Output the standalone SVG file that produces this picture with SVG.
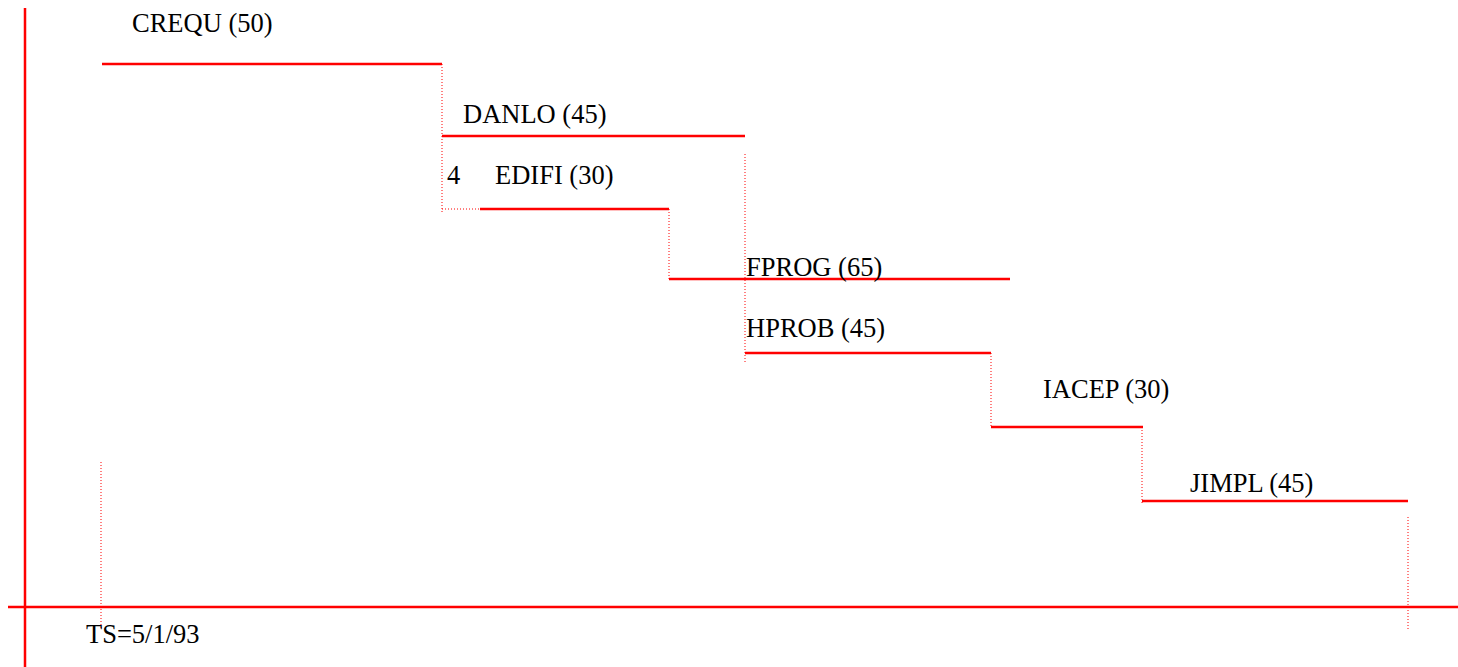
<svg xmlns="http://www.w3.org/2000/svg" width="1458" height="667" viewBox="0 0 1458 667">
<style>
.bar{stroke:#ff0000;stroke-width:2.5;fill:none}
.axis{stroke:#ff0000;stroke-width:2.5;fill:none}
.dot{stroke:#ff0000;stroke-width:1;stroke-dasharray:1 2;fill:none}
.lbl{font-family:"Liberation Serif","Times New Roman",serif;font-size:26.5px;fill:#000}
</style>
<rect width="1458" height="667" fill="#fff"/>
<g id="axes">
<line class="axis" x1="25" y1="8" x2="25" y2="667"/>
<line class="axis" x1="8" y1="607" x2="1458" y2="607"/>
</g>
<g id="connectors">
<line class="dot" x1="101" y1="462" x2="101" y2="630"/>
<line class="dot" x1="442" y1="64" x2="442" y2="213"/>
<line class="dot" x1="442" y1="209" x2="480" y2="209"/>
<line class="dot" x1="669" y1="209" x2="669" y2="280"/>
<line class="dot" x1="745" y1="154" x2="745" y2="363"/>
<line class="dot" x1="991" y1="353" x2="991" y2="427"/>
<line class="dot" x1="1142" y1="427" x2="1142" y2="504"/>
<line class="dot" x1="1408" y1="517" x2="1408" y2="630"/>
</g>
<g id="CREQU"><line class="bar" x1="102" y1="64" x2="442" y2="64"/><text class="lbl" x="132" y="32">CREQU (50)</text></g>
<g id="DANLO"><line class="bar" x1="442" y1="136" x2="745" y2="136"/><text class="lbl" x="463" y="123">DANLO (45)</text></g>
<g id="EDIFI"><line class="bar" x1="480" y1="209" x2="669" y2="209"/><text class="lbl" x="447" y="184">4</text><text class="lbl" x="495" y="184">EDIFI (30)</text></g>
<g id="FPROG"><line class="bar" x1="669" y1="279" x2="1010" y2="279"/><text class="lbl" x="746" y="276">FPROG (65)</text></g>
<g id="HPROB"><line class="bar" x1="745" y1="353" x2="991" y2="353"/><text class="lbl" x="746" y="337">HPROB (45)</text></g>
<g id="IACEP"><line class="bar" x1="991" y1="427" x2="1143" y2="427"/><text class="lbl" x="1043" y="398">IACEP (30)</text></g>
<g id="JIMPL"><line class="bar" x1="1142" y1="501" x2="1408" y2="501"/><text class="lbl" x="1190" y="492">JIMPL (45)</text></g>
<g id="TS"><text class="lbl" x="86" y="643">TS=5/1/93</text></g>
</svg>
